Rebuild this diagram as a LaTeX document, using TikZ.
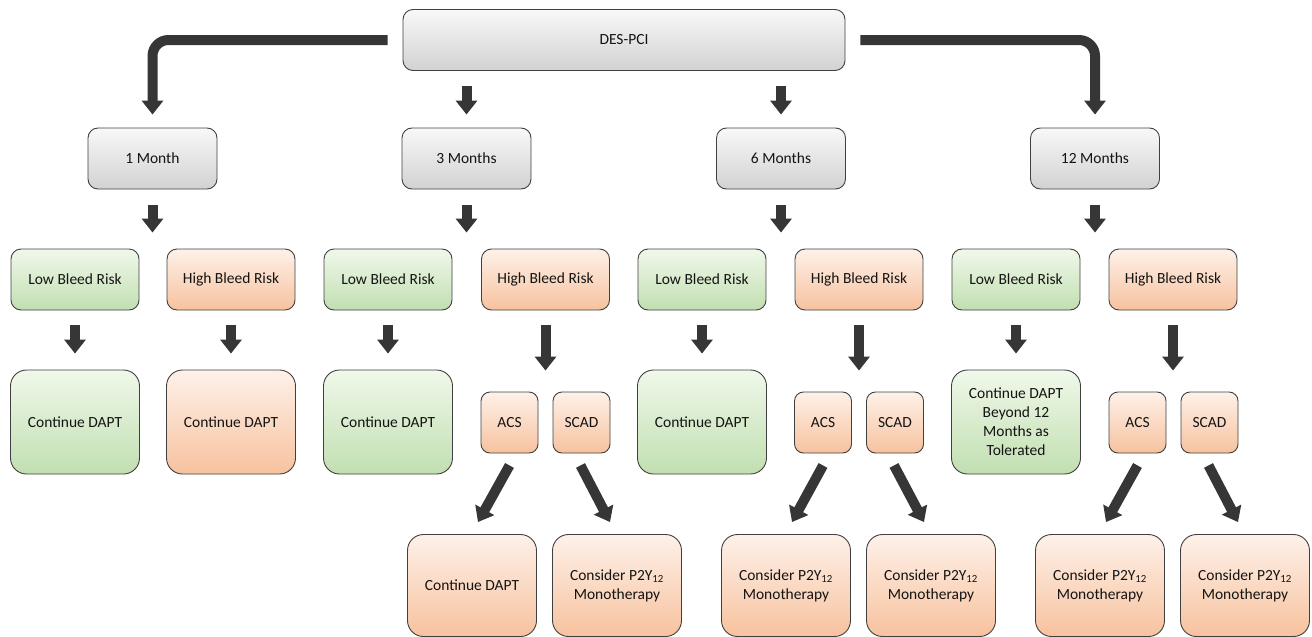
\documentclass[tikz,border=0pt]{standalone}
\usepackage{fontspec}
\setmainfont{Carlito}
\usetikzlibrary{arrows.meta}
\definecolor{bordc}{HTML}{404040}
\definecolor{arrc}{HTML}{363636}
\definecolor{txtc}{HTML}{141414}
\definecolor{gtop}{HTML}{F8F8F8}
\definecolor{gbot}{HTML}{D2D2D2}
\definecolor{grtop}{HTML}{F0F8EA}
\definecolor{grbot}{HTML}{C1DFB1}
\definecolor{ortop}{HTML}{FEF1E9}
\definecolor{orbot}{HTML}{F7C29E}
\tikzset{
  box/.style={draw=bordc, line width=0.9pt, align=center, inner sep=0pt,
    text=txtc, font=\fontsize{15.5}{19}\selectfont},
  graybox/.style={box, top color=gtop, bottom color=gbot, rounded corners=10pt},
  greenbox/.style={box, top color=grtop, bottom color=grbot},
  orangebox/.style={box, top color=ortop, bottom color=orbot},
  smallbox/.style={minimum width=128pt, minimum height=61pt, rounded corners=10pt},
  bigbox/.style={minimum width=129pt, minimum height=104pt, rounded corners=16pt},
  btmbox/.style={minimum width=129pt, minimum height=102pt, rounded corners=16pt},
  tinybox/.style={minimum width=57pt, minimum height=61pt, rounded corners=9pt},
  arr/.style={draw=arrc, line width=10pt, -{Triangle[width=21pt,length=14pt]}},
}
\begin{document}
\begin{tikzpicture}[x=1pt,y=-1pt]
\useasboundingbox (0,0) rectangle (1312,637);
% top
\node[graybox, minimum width=442pt, minimum height=61pt] (top) at (624,40) {DES-PCI};
% months
\node[graybox, minimum width=129pt, minimum height=61pt] (m1) at (152.5,158.5) {1 Month};
\node[graybox, minimum width=129pt, minimum height=61pt] (m2) at (466.5,158.5) {3 Months};
\node[graybox, minimum width=129pt, minimum height=61pt] (m3) at (781,158.5) {6 Months};
\node[graybox, minimum width=129pt, minimum height=61pt] (m4) at (1095,158.5) {12 Months};
% bleed risk
\node[greenbox, smallbox] (lo1) at (75,279.5) {Low Bleed Risk};
\node[orangebox, smallbox] (hi1) at (231,279.5) {High Bleed Risk};
\node[greenbox, smallbox] (lo2) at (388,279.5) {Low Bleed Risk};
\node[orangebox, smallbox] (hi2) at (545.5,279.5) {High Bleed Risk};
\node[greenbox, smallbox] (lo3) at (702,279.5) {Low Bleed Risk};
\node[orangebox, smallbox] (hi3) at (859,279.5) {High Bleed Risk};
\node[greenbox, smallbox] (lo4) at (1016,279.5) {Low Bleed Risk};
\node[orangebox, smallbox] (hi4) at (1173,279.5) {High Bleed Risk};
% continue boxes
\node[greenbox, bigbox] (c1) at (75,422) {Continue DAPT};
\node[orangebox, bigbox] (ch1) at (231,422) {Continue DAPT};
\node[greenbox, bigbox] (c2) at (388,422) {Continue DAPT};
\node[greenbox, bigbox] (c3) at (702,422) {Continue DAPT};
\node[greenbox, bigbox] (c4) at (1016,422) {Continue DAPT\\Beyond 12\\Months as\\Tolerated};
% ACS / SCAD
\node[orangebox, tinybox] (a2) at (509.5,422.5) {ACS};
\node[orangebox, tinybox] (s2) at (581.5,422.5) {SCAD};
\node[orangebox, tinybox] (a3) at (823,422.5) {ACS};
\node[orangebox, tinybox] (s3) at (895,422.5) {SCAD};
\node[orangebox, tinybox] (a4) at (1137.5,422.5) {ACS};
\node[orangebox, tinybox] (s4) at (1209.5,422.5) {SCAD};
% bottom boxes
\node[orangebox, btmbox] (b2l) at (472,585.5) {Continue DAPT};
\node[orangebox, btmbox] (b2r) at (617,585.5) {Consider P2Y\textsubscript{12}\\Monotherapy};
\node[orangebox, btmbox] (b3l) at (786,585.5) {Consider P2Y\textsubscript{12}\\Monotherapy};
\node[orangebox, btmbox] (b3r) at (931,585.5) {Consider P2Y\textsubscript{12}\\Monotherapy};
\node[orangebox, btmbox] (b4l) at (1100,585.5) {Consider P2Y\textsubscript{12}\\Monotherapy};
\node[orangebox, btmbox] (b4r) at (1245,585.5) {Consider P2Y\textsubscript{12}\\Monotherapy};
% top arrows
\draw[arr, rounded corners=16pt] ([xshift=-15pt]top.west) -| ([yshift=13pt]m1.north);
\draw[arr, rounded corners=16pt] ([xshift=15pt]top.east) -| ([yshift=13pt]m4.north);
\coordinate (t2) at (top.south -| m2.north);
\coordinate (t3) at (top.south -| m3.north);
\draw[arr] ([yshift=-15pt]t2) -- ([yshift=13pt]m2.north);
\draw[arr] ([yshift=-15pt]t3) -- ([yshift=13pt]m3.north);
% month to bleed
\foreach \i in {1,2,3,4}{
  \coordinate (mb\i) at (m\i.south |- lo\i.north);
  \draw[arr] ([yshift=-16pt]m\i.south) -- ([yshift=16pt]mb\i);
}
% bleed to continue
\draw[arr] ([yshift=-15pt]lo1.south) -- ([yshift=16pt]c1.north);
\draw[arr] ([yshift=-15pt]hi1.south) -- ([yshift=16pt]ch1.north);
\draw[arr] ([yshift=-15pt]lo2.south) -- ([yshift=16pt]c2.north);
\draw[arr] ([yshift=-15pt]lo3.south) -- ([yshift=16pt]c3.north);
\draw[arr] ([yshift=-15pt]lo4.south) -- ([yshift=16pt]c4.north);
% high to ACS/SCAD
\foreach \i in {2,3,4}{
  \coordinate (ha\i) at (hi\i.south |- a\i.north);
  \draw[arr] ([yshift=-15pt]hi\i.south) -- ([yshift=21pt]ha\i);
  \draw[arr] ([yshift=-12pt]a\i.south) -- ([xshift=6pt,yshift=12pt]b\i l.north);
  \draw[arr] ([xshift=-1pt,yshift=-12pt]s\i.south) -- ([xshift=-7pt,yshift=12pt]b\i r.north);
}
\end{tikzpicture}
\end{document}
